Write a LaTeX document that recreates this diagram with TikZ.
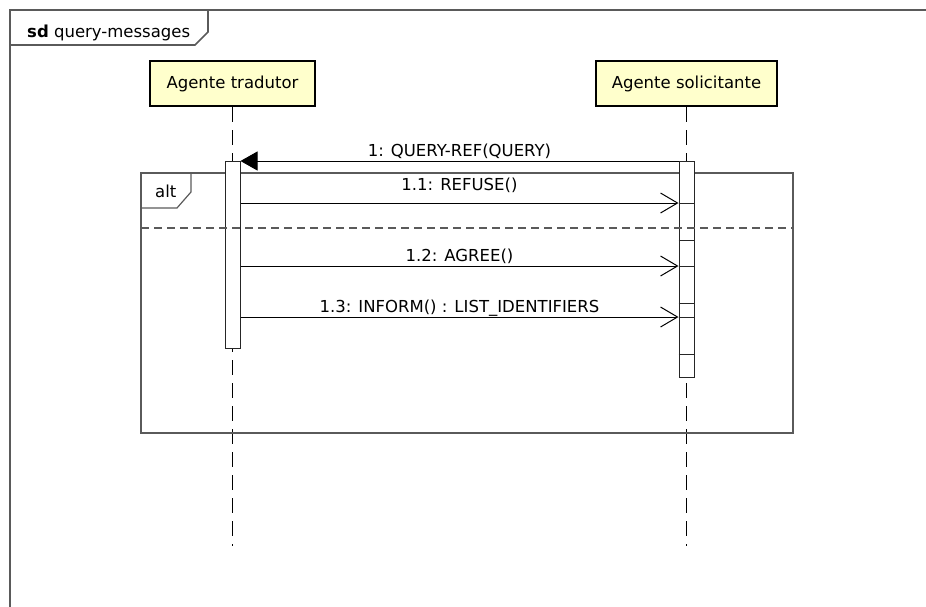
\documentclass[tikz,border=0pt]{standalone}
\usepackage{fontspec}
\setmainfont{DejaVu Sans}
\usetikzlibrary{arrows.meta}
\definecolor{headfill}{RGB}{255,255,204}
\definecolor{framegray}{RGB}{90,90,90}
\begin{document}
\begin{tikzpicture}[x=1pt,y=-1pt,
  font=\fontsize{16.5}{20}\selectfont,
  head/.style={draw=black, line width=2.2pt, fill=headfill, minimum height=45pt, inner sep=0pt},
  act/.style={draw=black!85, line width=1pt, fill=white, minimum width=15pt, inner sep=0pt},
  actline/.style={draw=black!85, line width=1pt},
  lifeline/.style={draw=black, line width=1pt, dash pattern=on 15pt off 8pt},
  msg/.style={draw=black, line width=1pt},
  sync/.style={msg, -{Triangle[length=17pt,width=19pt]}},
  async/.style={msg, -{Straight Barb[length=17pt,width=20pt,line width=1pt]}},
  msglabel/.style={midway, anchor=base, inner sep=0pt, yshift=#1},
  msglabel/.default=4.5pt,
  frame/.style={draw=framegray, line width=1.6pt},
  fragment/.style={draw=framegray, line width=1.2pt},
  separator/.style={fragment, dash pattern=on 8pt off 5pt}]
\useasboundingbox (0,0) rectangle (926,606);

% diagram frame (extends past the right and bottom edges)
\draw[frame] (10,615) -- (10,10) -- (935,10);
\draw[frame] (10,45) -- (195,45) -- (208,32) -- (208,10);
\node[anchor=base west, inner sep=0pt] (sdlabel) at (27,37) {\textbf{sd} query-messages};

% lifeline heads
\node[head, minimum width=165pt] (tra) at (232.5,83.5) {Agente tradutor};
\node[head, minimum width=181pt] (sol) at (686.5,83.5) {Agente solicitante};
\coordinate (traEnd) at (232.5,546);
\coordinate (solEnd) at (686.5,546);
\draw[lifeline] (tra.south) -- (traEnd);
\draw[lifeline] (sol.south) -- (solEnd);

% alt combined fragment
\draw[fragment] (141,173) rectangle (793,433);
\draw[fragment] (141,208) -- (177,208) -- (191,192) -- (191,173);
\node[anchor=base west, inner sep=0pt] (altlabel) at (155,197) {alt};

% activation bars
\node[act, minimum height=187pt] (actT) at (232.5,254.5) {};
\node[act, minimum height=216pt] (actS) at (686.5,269) {};
\foreach \yy in {203,240,266,303,317,354}
  \draw[actline] (actS.west |- 0,\yy) -- (actS.east |- 0,\yy);

% operand separator
\draw[separator] (141,228) -- (793,228);

% messages
\draw[sync] (actS.west |- 0,161) -- node[msglabel] {1: QUERY-REF(QUERY)} (actT.east |- 0,161);
\draw[async] (actT.east |- 0,203) -- node[msglabel=13pt] {1.1: REFUSE()} (actS.west |- 0,203);
\draw[async] (actT.east |- 0,266) -- node[msglabel] {1.2: AGREE()} (actS.west |- 0,266);
\draw[async] (actT.east |- 0,317) -- node[msglabel] {1.3: INFORM() : LIST\_IDENTIFIERS} (actS.west |- 0,317);
\end{tikzpicture}
\end{document}
